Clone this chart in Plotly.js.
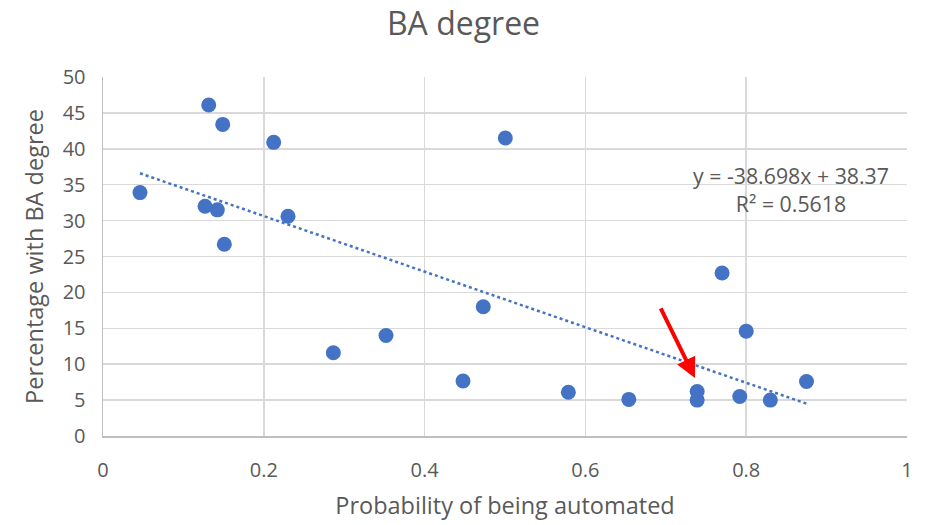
<!DOCTYPE html>
<html>
<head>
<meta charset="utf-8">
<script src="https://cdn.plot.ly/plotly-3.0.1.min.js"></script>
<style>html,body{margin:0;padding:0;background:#fff;}#chart{width:927px;height:525px;}</style>
</head>
<body>
<div id="chart"></div>
<script>
const probAutomated = [0.046, 0.1315, 0.1489, 0.1269, 0.1422, 0.1509, 0.2123, 0.2301, 0.2865, 0.352, 0.4478, 0.473, 0.5004, 0.5788, 0.654, 0.739, 0.739, 0.770, 0.792, 0.800, 0.830, 0.875];
const pctBA = [33.9, 46.1, 43.4, 32.0, 31.5, 26.7, 40.9, 30.6, 11.6, 14.0, 7.66, 18.0, 41.5, 6.09, 5.1, 6.2, 5.0, 22.7, 5.5, 14.6, 5.0, 7.6];
const trendSlope = -38.698;
const trendIntercept = 38.37;
const rSquared = 0.5618;
const xTicks = [0, 0.2, 0.4, 0.6, 0.8, 1];
const xTickLabels = ['0', '0.2', '0.4', '0.6', '0.8', '1'];
const yTicks = [0, 5, 10, 15, 20, 25, 30, 35, 40, 45, 50];
const arrowTail = [0.6928, 17.97];
const arrowHead = [0.7363, 8.08];

const xMin = Math.min(...probAutomated), xMax = Math.max(...probAutomated);
const trendX = [xMin, xMax];
const trendY = trendX.map(v => trendSlope * v + trendIntercept);

const blue = '#4472C4';
const grey = '#595959';
const font = 'Open Sans, Noto Sans, sans-serif';

const data = [
  {type: 'scatter', mode: 'lines', x: trendX, y: trendY,
   line: {color: blue, width: 2.5, dash: 'dot'}, hoverinfo: 'skip'},
  {type: 'scatter', mode: 'markers', x: probAutomated, y: pctBA,
   marker: {color: blue, size: 15, line: {width: 0}}}
];

const layout = {
  width: 927, height: 525,
  margin: {l: 103, r: 20, t: 77, b: 89},
  paper_bgcolor: '#fff', plot_bgcolor: '#fff',
  showlegend: false,
  font: {family: font, color: grey},
  title: {text: 'BA degree', font: {size: 32, color: grey, family: font}, x: 0.5, xanchor: 'center', y: 0.955, yanchor: 'middle'},
  xaxis: {
    range: [0, 1], tickvals: xTicks, ticktext: xTickLabels,
    showgrid: true, gridcolor: '#d9d9d9', gridwidth: 1.5,
    showline: true, linecolor: '#bfbfbf', linewidth: 1.5,
    zeroline: false, ticks: '', ticklabelstandoff: 15,
    tickfont: {size: 20, color: grey, family: font},
    title: {text: 'Probability of being automated', font: {size: 23.5, color: grey, family: font}, standoff: 16}
  },
  yaxis: {
    range: [0, 50], tickvals: yTicks,
    showgrid: true, gridcolor: '#d9d9d9', gridwidth: 1.5,
    showline: true, linecolor: '#bfbfbf', linewidth: 1.5,
    zeroline: false, ticks: '', ticklabelstandoff: 12,
    tickfont: {size: 20, color: grey, family: font},
    title: {text: 'Percentage with BA degree', font: {size: 23.5, color: grey, family: font}, standoff: 12}
  },
  annotations: [
    {x: 0.856, y: 34.3, xref: 'x', yref: 'y', showarrow: false, align: 'center',
     text: 'y = ' + trendSlope.toFixed(3) + 'x + ' + trendIntercept.toFixed(2) + '<br>R² = ' + rSquared.toFixed(4),
     font: {size: 21.3, color: grey, family: font}},
    {x: arrowHead[0], y: arrowHead[1], ax: arrowTail[0], ay: arrowTail[1],
     xref: 'x', yref: 'y', axref: 'x', ayref: 'y', text: '', showarrow: true,
     arrowhead: 2, arrowsize: 1, arrowwidth: 4, arrowcolor: '#FF0000'}
  ]
};

Plotly.newPlot('chart', data, layout, {displayModeBar: false, staticPlot: true});
</script>
</body>
</html>
